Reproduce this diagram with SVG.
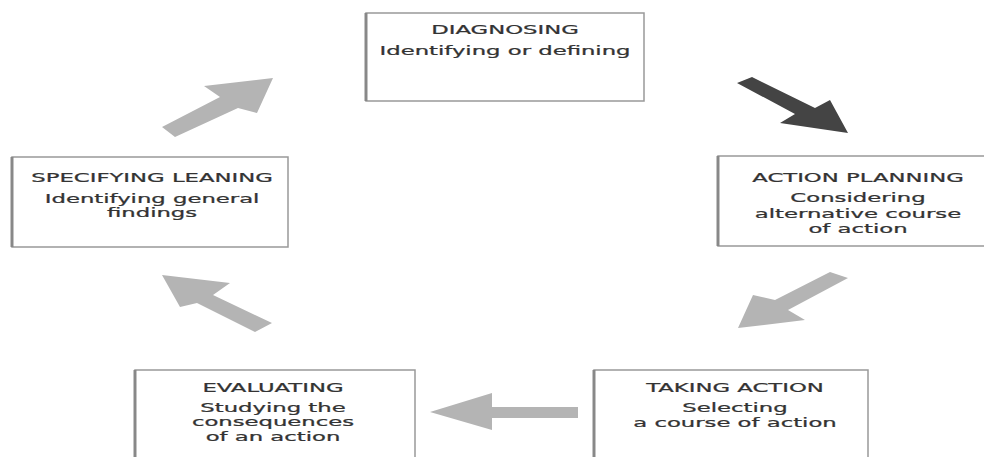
<svg xmlns="http://www.w3.org/2000/svg" width="984" height="457" viewBox="0 0 984 457">
<style>
.box{fill:#fff;stroke:#999;stroke-width:1.5}
.edge{stroke:#888;stroke-width:3}
.t{font-family:"DejaVu Sans",Verdana,sans-serif;font-size:13px;fill:#333;stroke:#333;stroke-width:0.25;text-anchor:middle}
.lt{fill:#b4b4b4}
.dk{fill:#444}
</style>
<rect width="984" height="457" fill="#fff"/>
<g id="connectors">
<polygon class="lt" points="162,127 175,137 238,108 257,113 273,78 204,86 220,97"/>
<polygon class="dk" points="752,77 815,108 830,100 848,133 780,123 795,114 737,83"/>
<polygon class="lt" points="830,272 848,278 788,310 805,320 738,328 753,295 775,300"/>
<polygon class="lt" points="272,323 255,332 197,303 180,307 162,275 230,283 213,295"/>
<polygon class="lt" points="578,407 578,418 492,418 492,430 430,412 492,393 492,407"/>
</g>
<g id="diagnosing">
<rect class="box" x="366" y="13" width="278" height="88"/>
<line class="edge" x1="366" y1="13" x2="366" y2="101"/>
<g transform="scale(1.75,1)"><text class="t" x="288.6" y="34">DIAGNOSING</text><text class="t" x="288.6" y="55">Identifying or defining</text></g>
</g>
<g id="action-planning">
<rect class="box" x="718" y="156" width="290" height="90"/>
<line class="edge" x1="718" y1="156" x2="718" y2="246"/>
<g transform="scale(1.75,1)"><text class="t" x="490.3" y="182">ACTION PLANNING</text><text class="t" x="490.3" y="202">Considering</text><text class="t" x="490.3" y="218">alternative course</text><text class="t" x="490.3" y="233">of action</text></g>
</g>
<g id="specifying-leaning">
<rect class="box" x="12" y="157" width="276" height="90"/>
<line class="edge" x1="12" y1="157" x2="12" y2="247"/>
<g transform="scale(1.75,1)"><text class="t" x="86.9" y="182">SPECIFYING LEANING</text><text class="t" x="86.9" y="203">Identifying general</text><text class="t" x="86.9" y="217">findings</text></g>
</g>
<g id="evaluating">
<rect class="box" x="135" y="370" width="280" height="100"/>
<line class="edge" x1="135" y1="370" x2="135" y2="470"/>
<g transform="scale(1.75,1)"><text class="t" x="156" y="392">EVALUATING</text><text class="t" x="156" y="412">Studying the</text><text class="t" x="156" y="426">consequences</text><text class="t" x="156" y="441">of an action</text></g>
</g>
<g id="taking-action">
<rect class="box" x="594" y="370" width="274" height="100"/>
<line class="edge" x1="594" y1="370" x2="594" y2="470"/>
<g transform="scale(1.75,1)"><text class="t" x="420" y="392">TAKING ACTION</text><text class="t" x="420" y="412">Selecting</text><text class="t" x="420" y="427">a course of action</text></g>
</g>
</svg>
